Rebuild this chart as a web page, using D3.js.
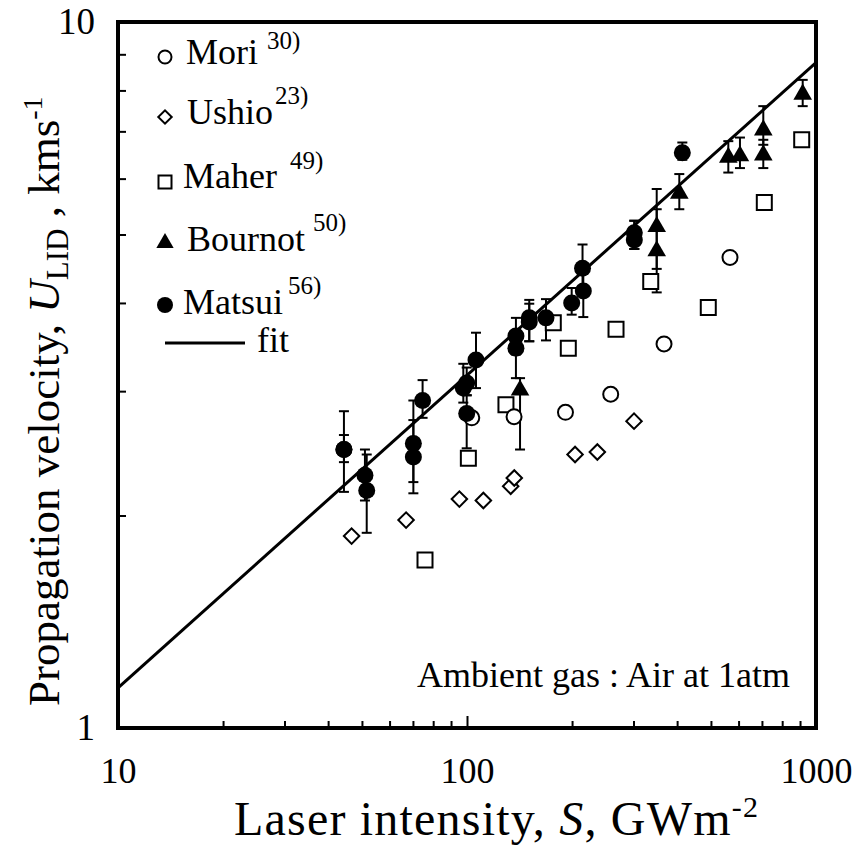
<!DOCTYPE html>
<html>
<head>
<meta charset="utf-8">
<script src="https://cdn.jsdelivr.net/npm/d3@7"></script>
<style>
    body { margin: 0; background: #fff; }
    svg { display: block; }
    text { font-family: "Liberation Serif", "Times New Roman", serif; }
</style>
</head>
<body>
<div id="chart"></div>
<script>
// data (S in GWm-2, U in km/s)
const moriS = [103.2, 136.4, 191.5, 258.1, 366.9, 567];
const moriU = [2.75, 2.76, 2.80, 2.97, 3.50, 4.64];

const ushioS = [46.7, 66.9, 95.1, 111.4, 133.4, 136.6, 204, 236.3, 301];
const ushioU = [1.87, 1.97, 2.11, 2.10, 2.20, 2.26, 2.44, 2.46, 2.72];

const maherS = [75.8, 100.9, 129.3, 176.7, 195.1, 267.3, 336.1, 491.3, 711, 910];
const maherU = [1.73, 2.41, 2.87, 3.75, 3.45, 3.67, 4.29, 3.94, 5.55, 6.81];

const bournotS = [141.9, 349.6, 349.6, 405.8, 560.7, 605.5, 706.3, 706.3, 916];
const bournotU = [3.01, 5.13, 4.74, 5.72, 6.43, 6.46, 7.03, 6.48, 7.90];
const bournotLo = [2.48, 4.47, 4.14, 5.43, 6.12, 6.21, 6.70, 6.21, 7.60];
const bournotHi = [3.13, 5.80, 5.43, 6.09, 6.78, 6.86, 7.60, 6.81, 8.28];

const matsuiS = [44.4, 44.4, 51.0, 51.6, 70.2, 70.2, 74.6, 97.6, 99.8, 99.8, 106.1,
    138.1, 138.1, 150.8, 150.8, 168.4, 199.5, 215.4, 214.3, 301.6, 301.6, 414];
const matsuiU = [2.48, 2.48, 2.28, 2.17, 2.53, 2.42, 2.91, 3.03, 3.08, 2.79, 3.32,
    3.59, 3.45, 3.81, 3.76, 3.81, 4.00, 4.16, 4.48, 5.03, 4.91, 6.53];
const matsuiLo = [2.16, 2.38, 2.10, 1.89, 2.23, 2.15, 2.75, 2.89, 2.96, 2.49, 3.03,
    3.38, 3.13, 3.53, 3.53, 3.54, 3.85, 3.82, 4.16, 4.77, 4.77, 6.38];
const matsuiHi = [2.81, 2.60, 2.48, 2.44, 2.91, 2.73, 3.11, 3.28, 3.24, 2.96, 3.63,
    3.81, 3.66, 4.04, 3.99, 4.05, 4.20, 4.48, 4.84, 5.23, 5.23, 6.75];

const fitS = [10, 1000];
const fitU = [1.14, 8.76];

const xTicks = [10, 100, 1000];
const yTicks = [1, 10];

const W = 858, H = 848;
const pLeft = 118, pRight = 816, pTop = 22, pBottom = 728;
const serif = '"Liberation Serif", "Times New Roman", serif';

const svg = d3.select("#chart").append("svg")
    .attr("width", W)
    .attr("height", H)
    .style("font-family", serif);

svg.append("rect").attr("width", W).attr("height", H).attr("fill", "#fff");

const x = d3.scaleLog().domain([10, 1000]).range([pLeft, pRight]);
const y = d3.scaleLog().domain([1, 10]).range([pBottom, pTop]);

// minor ticks pointing inward
const xMinor = x.ticks().filter(v => xTicks.indexOf(v) < 0);
const yMinor = y.ticks().filter(v => yTicks.indexOf(v) < 0);

svg.append("g")
    .attr("transform", "translate(0," + pBottom + ")")
    .call(d3.axisBottom(x).tickValues(xMinor).tickSize(-7).tickFormat(""))
    .call(g => g.select(".domain").remove())
    .selectAll("line").attr("stroke", "#000").attr("stroke-width", 2);

svg.append("g")
    .attr("transform", "translate(0," + pBottom + ")")
    .call(d3.axisBottom(x).tickValues([100]).tickSize(-12).tickFormat(""))
    .call(g => g.select(".domain").remove())
    .selectAll("line").attr("stroke", "#000").attr("stroke-width", 2);

svg.append("g")
    .attr("transform", "translate(" + pLeft + ",0)")
    .call(d3.axisLeft(y).tickValues(yMinor).tickSize(-8).tickFormat(""))
    .call(g => g.select(".domain").remove())
    .selectAll("line").attr("stroke", "#000").attr("stroke-width", 2);

// tick labels
svg.append("g")
    .attr("transform", "translate(0," + pBottom + ")")
    .call(d3.axisBottom(x).tickValues(xTicks).tickSize(0).tickPadding(29).tickFormat(d3.format("d")))
    .call(g => g.select(".domain").remove())
    .selectAll("text")
    .attr("fill", "#000")
    .style("font-size", "36px")
    .style("font-family", serif);

svg.append("g")
    .attr("transform", "translate(" + pLeft + ",0)")
    .call(d3.axisLeft(y).tickValues(yTicks).tickSize(0).tickPadding(23).tickFormat(d3.format("d")))
    .call(g => g.select(".domain").remove())
    .selectAll("text")
    .attr("fill", "#000")
    .style("font-size", "37px")
    .style("font-family", serif);

// fit line
const line = d3.line().x(d => x(d[0])).y(d => y(d[1]));
const plot = svg.append("g");
plot.append("path")
    .datum(d3.zip(fitS, fitU))
    .attr("d", line)
    .attr("fill", "none")
    .attr("stroke", "#000")
    .attr("stroke-width", 3);

// error bars
function errorBars(S, Lo, Hi) {
    const g = plot.append("g").attr("stroke", "#000").attr("stroke-width", 2);
    S.forEach((s, i) => {
        const cx = x(s);
        g.append("line").attr("x1", cx).attr("x2", cx).attr("y1", y(Lo[i])).attr("y2", y(Hi[i]));
        [Lo[i], Hi[i]].forEach(v => {
            g.append("line").attr("x1", cx - 5).attr("x2", cx + 5).attr("y1", y(v)).attr("y2", y(v));
        });
    });
}
errorBars(bournotS, bournotLo, bournotHi);
errorBars(matsuiS, matsuiLo, matsuiHi);

function markers(S, U, type, size, filled, rot) {
    plot.append("g").selectAll("path")
        .data(d3.zip(S, U))
        .join("path")
        .attr("transform", d => "translate(" + x(d[0]) + "," + y(d[1]) + ")" + (rot ? " rotate(45)" : ""))
        .attr("d", d3.symbol().type(type).size(size))
        .attr("fill", filled ? "#000" : "#fff")
        .attr("stroke", "#000")
        .attr("stroke-width", filled ? 0 : 2);
}
markers(ushioS, ushioU, d3.symbolSquare, 120, false, true);   // diamonds
markers(maherS, maherU, d3.symbolSquare, 225, false, false);
plot.append("g").selectAll("circle")
    .data(d3.zip(moriS, moriU))
    .join("circle")
    .attr("cx", d => x(d[0])).attr("cy", d => y(d[1])).attr("r", 7.5)
    .attr("fill", "#fff").attr("stroke", "#000").attr("stroke-width", 2);
markers(bournotS, bournotU, d3.symbolTriangle, 150, true, false);
plot.append("g").selectAll("circle")
    .data(d3.zip(matsuiS, matsuiU))
    .join("circle")
    .attr("cx", d => x(d[0])).attr("cy", d => y(d[1])).attr("r", 8.5)
    .attr("fill", "#000");

// frame
svg.append("rect")
    .attr("x", pLeft).attr("y", pTop)
    .attr("width", pRight - pLeft).attr("height", pBottom - pTop)
    .attr("fill", "none")
    .attr("stroke", "#000")
    .attr("stroke-width", 4);

// legend
const leg = svg.append("g").style("font-size", "36px").style("font-family", serif);
const legItems = [
    { name: "Mori", ref: "30)", y: 57, tx: 186, ty: 64, rx: 267, ry: 49 },
    { name: "Ushio", ref: "23)", y: 117, tx: 187, ty: 124, rx: 275, ry: 104 },
    { name: "Maher", ref: "49)", y: 182, tx: 183, ty: 188, rx: 290, ry: 169 },
    { name: "Bournot", ref: "50)", y: 243, tx: 187, ty: 251, rx: 313, ry: 231 },
    { name: "Matsui", ref: "56)", y: 305, tx: 183, ty: 314, rx: 288, ry: 294 }
];
const mx = 165;
leg.append("circle").attr("cx", mx).attr("cy", legItems[0].y).attr("r", 6.5)
    .attr("fill", "#fff").attr("stroke", "#000").attr("stroke-width", 2);
leg.append("path").attr("transform", "translate(" + mx + "," + legItems[1].y + ") rotate(45)")
    .attr("d", d3.symbol().type(d3.symbolSquare).size(90))
    .attr("fill", "#fff").attr("stroke", "#000").attr("stroke-width", 2);
leg.append("rect").attr("x", mx - 6.5).attr("y", legItems[2].y - 6.5).attr("width", 13).attr("height", 13)
    .attr("fill", "#fff").attr("stroke", "#000").attr("stroke-width", 2);
leg.append("path").attr("transform", "translate(" + mx + "," + legItems[3].y + ")")
    .attr("d", d3.symbol().type(d3.symbolTriangle).size(130)).attr("fill", "#000");
leg.append("circle").attr("cx", mx).attr("cy", legItems[4].y).attr("r", 8).attr("fill", "#000");

legItems.forEach(d => {
    leg.append("text").attr("x", d.tx).attr("y", d.ty).text(d.name);
    leg.append("text").attr("x", d.rx).attr("y", d.ry).style("font-size", "25px").text(d.ref);
});
leg.append("line").attr("x1", 165).attr("x2", 245).attr("y1", 343).attr("y2", 343)
    .attr("stroke", "#000").attr("stroke-width", 3);
leg.append("text").attr("x", 257).attr("y", 352).text("fit");

// annotation
svg.append("text")
    .attr("x", 790).attr("y", 687)
    .attr("text-anchor", "end")
    .style("font-size", "36px")
    .style("font-family", serif)
    .text("Ambient gas : Air at 1atm");

// axis titles
const xt = svg.append("text")
    .attr("x", 234).attr("y", 835)
    .style("font-size", "48px")
    .style("letter-spacing", "1.2px")
    .style("font-family", serif);
xt.append("tspan").text("Laser intensity,  ");
xt.append("tspan").style("font-style", "italic").text("S");
xt.append("tspan").text(", GWm");
xt.append("tspan").attr("dy", -18).style("font-size", "30px").text("-2");

const yt = svg.append("text")
    .attr("transform", "translate(59,706) rotate(-90)")
    .style("font-size", "45px")
    .style("font-family", serif);
yt.append("tspan").text("Propagation velocity, ");
yt.append("tspan").style("font-style", "italic").text("U");
yt.append("tspan").attr("dy", 9).style("font-size", "31px").text("LID");
yt.append("tspan").attr("dy", -9).text(" , kms");
yt.append("tspan").attr("dy", -17).style("font-size", "28px").text("-1");
</script>
</body>
</html>
